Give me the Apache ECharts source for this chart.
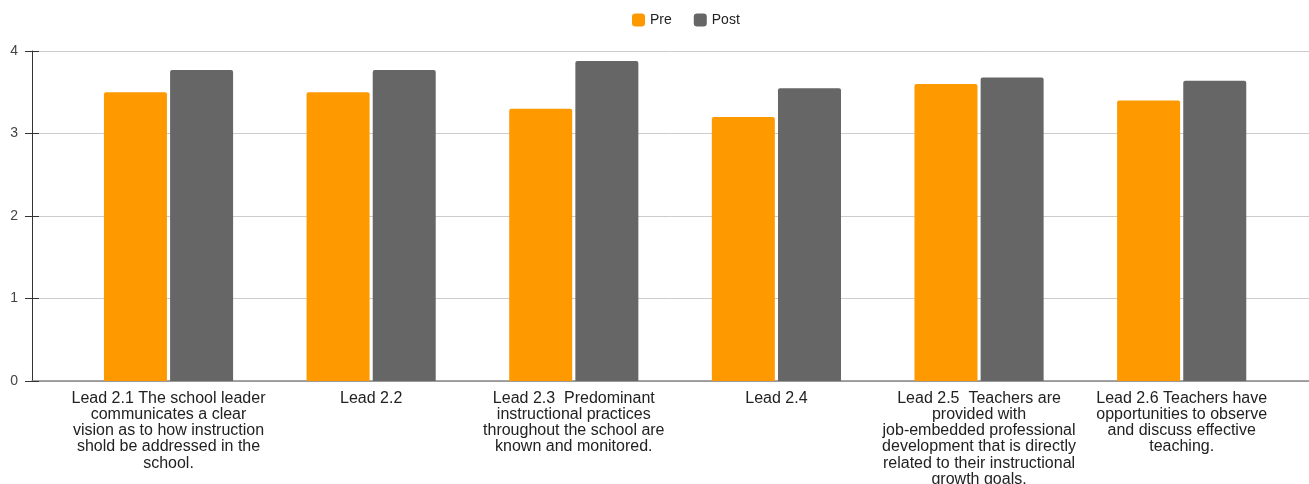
<!DOCTYPE html>
<html><head><meta charset="utf-8">
<script src="https://cdn.jsdelivr.net/npm/echarts@6/dist/echarts.min.js"></script>
<style>html,body{margin:0;padding:0;background:#fff}#c{width:1309px;height:484px}</style>
</head><body><div id="c"></div>
<script>
const categories = [
  "Lead 2.1 The school leader\ncommunicates a clear\nvision as to how instruction\nshold be addressed in the\nschool.",
  "Lead 2.2",
  "Lead 2.3  Predominant\ninstructional practices\nthroughout the school are\nknown and monitored.",
  "Lead 2.4",
  "Lead 2.5  Teachers are\nprovided with\njob-embedded professional\ndevelopment that is directly\nrelated to their instructional\ngrowth goals.",
  "Lead 2.6 Teachers have\nopportunities to observe\nand discuss effective\nteaching."
];
const preValues = [3.5, 3.5, 3.3, 3.2, 3.6, 3.4];
const postValues = [3.77, 3.77, 3.88, 3.55, 3.68, 3.64];
const yTicks = [0, 1, 2, 3, 4];

const chart = echarts.init(document.getElementById('c'), null, {renderer: 'canvas'});
const font = 'Arial, "Liberation Sans", sans-serif';
chart.setOption({
  animation: false,
  legend: {
    left: 627, top: 8, itemWidth: 13, itemHeight: 13, itemGap: 22,
    icon: 'roundRect',
    textStyle: {fontFamily: font, fontSize: 14, color: '#222'},
    data: ['Pre', 'Post']
  },
  grid: [
    {left: 32, right: 0, top: 51, bottom: 103, outerBoundsMode: 'none'},
    {left: 67.2, right: 26, top: 51, bottom: 103, outerBoundsMode: 'none'}
  ],
  xAxis: [
    {gridIndex: 0, type: 'category', data: [''], axisTick: {show: false}, axisLabel: {show: false},
     axisLine: {lineStyle: {color: '#888', width: 1.5}}},
    {gridIndex: 1, type: 'category', data: categories, axisTick: {show: false},
     axisLine: {show: false},
     axisLabel: {interval: 0, margin: 9, fontFamily: font, fontSize: 16, lineHeight: 16.3, color: '#222', align: 'center'}}
  ],
  yAxis: [
    {gridIndex: 0, type: 'value', min: 0, max: 4, interval: 1,
     axisLine: {show: true, lineStyle: {color: '#333', width: 1}},
     axisTick: {show: true, length: 7, lineStyle: {color: '#333'}},
     axisLabel: {margin: 14, fontFamily: font, fontSize: 14, color: '#444',
       formatter: v => yTicks.indexOf(v) >= 0 ? String(v) : ''},
     splitLine: {lineStyle: {color: '#ccc'}}},
    {gridIndex: 0, type: 'value', min: 0, max: 4, interval: 1, position: 'left',
     axisLine: {show: false}, axisLabel: {show: false}, splitLine: {show: false},
     axisTick: {show: true, inside: true, length: 7, lineStyle: {color: '#333'}}},
    {gridIndex: 1, type: 'value', min: 0, max: 4, interval: 1, show: false}
  ],
  series: [
    {name: 'Pre', type: 'bar', xAxisIndex: 1, yAxisIndex: 2, data: preValues,
     barWidth: 63, barGap: '5%', itemStyle: {color: '#ff9900', borderRadius: [2, 2, 0, 0]}},
    {name: 'Post', type: 'bar', xAxisIndex: 1, yAxisIndex: 2, data: postValues,
     barWidth: 63, barGap: '5%', itemStyle: {color: '#666666', borderRadius: [2, 2, 0, 0]}}
  ]
});
</script></body></html>
